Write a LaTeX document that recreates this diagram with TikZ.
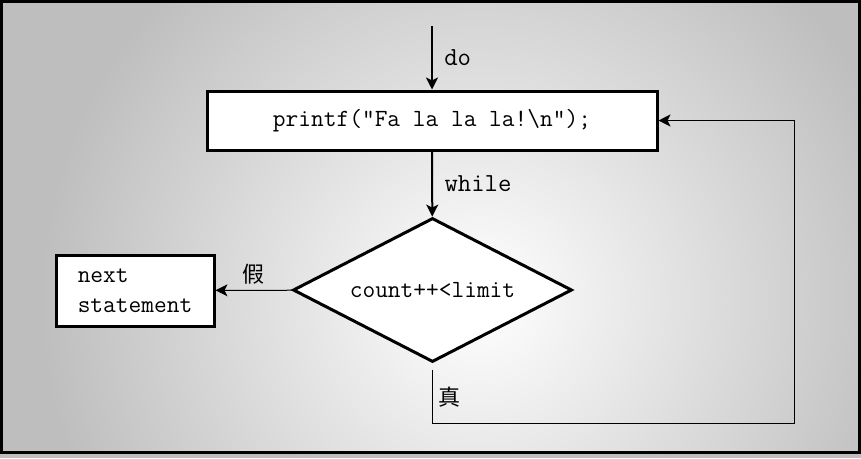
\documentclass[tikz,border=0pt]{standalone}
\usepackage{fontspec}
\newfontfamily\cjk{Noto Sans CJK SC}
\usetikzlibrary{shapes.geometric,arrows.meta,positioning}
\definecolor{bggray}{HTML}{BEBEBE}

\begin{document}
\begin{tikzpicture}[x=1pt,y=-1pt,>={Stealth[length=12pt,width=12pt,inset=3pt]},
    blk/.style={draw,line width=3pt,fill=white,font=\fontsize{24.7}{30}\ttfamily},
    dec/.style={blk,diamond,aspect=1.94,minimum width=279pt,minimum height=144pt,inner sep=0pt},
    lbl/.style={font=\fontsize{26}{28}\ttfamily,anchor=west,xshift=8pt},
    hz/.style={font=\fontsize{22}{24}\cjk}]
  \useasboundingbox (0,0) rectangle (861,458);
  \fill[bggray] (0,0) rectangle (861,458);
  \begin{scope}
    \clip (3,3) rectangle (858,451);
    \shade[inner color=white,outer color=bggray] (480,300) circle (440pt);
  \end{scope}
  \draw[line width=3pt] (1.5,1.5) rectangle (859.5,452.5);

  \node[blk,minimum width=450pt,minimum height=59pt] (body) at (432,120.5) {printf("Fa la la la!\textbackslash n");};
  \node[dec] (test) at (432.5,290) {count++<limit};
  \node[blk,minimum width=158pt,minimum height=71pt,align=left] (next) at (135,290.5) {next\\statement};
  \coordinate (entry) at (432,26);
  \coordinate (turn) at (794,423);

  \draw[->,line width=2pt] (entry) -- node[lbl]{do} (body);
  \draw[->,line width=2pt] (body) -- node[lbl]{while} (test);
  \draw[->,line width=1pt] (test) -- node[hz,above=2pt]{假} (next);
  \draw[->,line width=1pt] ([yshift=-6pt]test.south) |- (turn) |- (body.east);
  \node[hz,anchor=west] (yes) at (435,397) {真};
\end{tikzpicture}
\end{document}
